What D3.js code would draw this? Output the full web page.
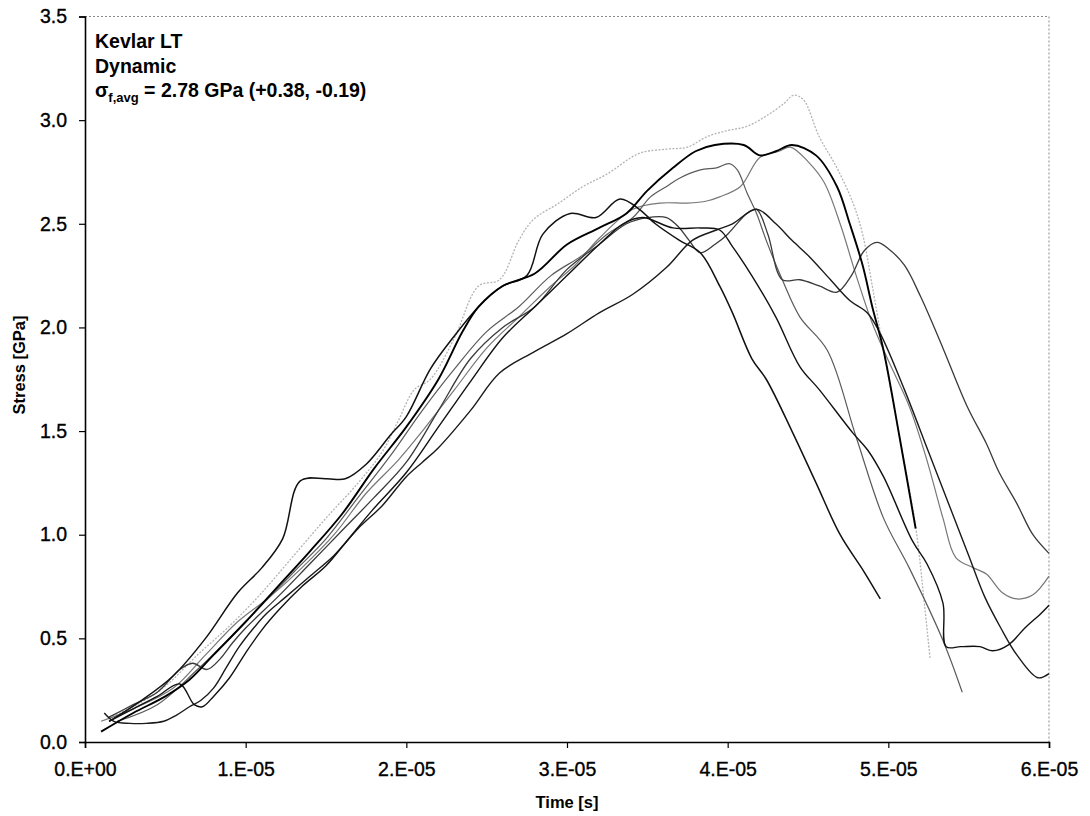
<!DOCTYPE html>
<html>
<head>
<meta charset="utf-8">
<script src="https://cdnjs.cloudflare.com/ajax/libs/d3/7.8.5/d3.min.js"></script>
<style>
  body { margin: 0; background: #fff; }
  svg { display: block; font-family: "Liberation Sans", Arial, sans-serif; }
</style>
</head>
<body>
<svg id="chart" width="1090" height="816"></svg>
<script>
// ---- data (time in units of 1e-5 s, stress in GPa) ----
const xTickValues = [0, 1, 2, 3, 4, 5, 6];
const xTickLabels = ["0.E+00", "1.E-05", "2.E-05", "3.E-05", "4.E-05", "5.E-05", "6.E-05"];
const yTickValues = [0, 0.5, 1.0, 1.5, 2.0, 2.5, 3.0, 3.5];

const seriesA = [[0.15,0.12],[0.3,0.17],[0.5,0.27],[0.7,0.42],[0.9,0.56],[1.1,0.72],[1.3,0.9],[1.5,1.08],[1.7,1.25],[1.85,1.4],[1.95,1.55],[2.05,1.7],[2.15,1.75],[2.3,1.95],[2.45,2.2],[2.58,2.23],[2.7,2.42],[2.79,2.52],[2.95,2.6],[3.1,2.68],[3.25,2.74],[3.45,2.84],[3.62,2.86],[3.75,2.87],[3.87,2.92],[4.0,2.95],[4.12,2.97],[4.24,3.02],[4.35,3.08],[4.41,3.12],[4.47,3.1],[4.57,2.92],[4.68,2.77],[4.78,2.6],[4.84,2.45],[4.9,2.2],[4.97,1.89],[5.07,1.47],[5.17,1.04],[5.22,0.7],[5.26,0.4]];
const seriesB = [[0.1,0.05],[0.3,0.14],[0.5,0.22],[0.65,0.3],[0.8,0.42],[1.0,0.58],[1.2,0.75],[1.4,0.92],[1.6,1.1],[1.8,1.32],[2.0,1.52],[2.2,1.75],[2.35,1.98],[2.45,2.1],[2.6,2.2],[2.8,2.26],[3.0,2.4],[3.2,2.48],[3.37,2.55],[3.5,2.66],[3.66,2.77],[3.8,2.85],[3.92,2.88],[4.1,2.88],[4.2,2.83],[4.3,2.85],[4.4,2.88],[4.55,2.83],[4.68,2.68],[4.76,2.5],[4.84,2.3],[4.9,2.1],[4.97,1.89],[5.07,1.47],[5.17,1.03]];
const seriesC = [[0.15,0.1],[0.35,0.2],[0.55,0.32],[0.75,0.5],[0.95,0.72],[1.1,0.84],[1.23,0.98],[1.34,1.26],[1.5,1.27],[1.62,1.27],[1.75,1.34],[1.9,1.48],[2.0,1.57],[2.15,1.8],[2.3,1.96],[2.45,2.1],[2.6,2.2],[2.75,2.25],[2.85,2.45],[3.02,2.55],[3.18,2.53],[3.33,2.62],[3.45,2.57],[3.55,2.5],[3.7,2.42],[3.83,2.36],[3.95,2.2],[4.03,2.07],[4.15,1.85],[4.24,1.75],[4.4,1.5],[4.55,1.25],[4.7,1.0],[4.85,0.82],[4.95,0.69]];
const seriesD = [[0.2,0.1],[0.45,0.18],[0.7,0.35],[0.9,0.5],[1.1,0.66],[1.3,0.82],[1.5,0.98],[1.7,1.18],[1.9,1.38],[2.1,1.6],[2.3,1.8],[2.5,1.98],[2.7,2.1],[2.9,2.25],[3.1,2.35],[3.25,2.45],[3.41,2.53],[3.52,2.63],[3.62,2.68],[3.7,2.72],[3.83,2.76],[3.93,2.77],[4.01,2.79],[4.06,2.76],[4.12,2.65],[4.18,2.55],[4.24,2.42],[4.34,2.23],[4.45,2.05],[4.62,1.89],[4.8,1.47],[4.97,1.08],[5.13,0.84],[5.34,0.49],[5.46,0.24]];
const seriesE = [[0.12,0.14],[0.18,0.1],[0.28,0.09],[0.38,0.09],[0.49,0.1],[0.57,0.13],[0.65,0.17],[0.72,0.2],[0.8,0.26],[0.88,0.36],[0.96,0.46],[1.05,0.55],[1.13,0.62],[1.25,0.7],[1.4,0.8],[1.55,0.9],[1.7,1.03],[1.85,1.14],[2.0,1.28],[2.1,1.35],[2.2,1.42],[2.4,1.6],[2.58,1.78],[2.79,1.88],[3.0,1.97],[3.2,2.07],[3.41,2.16],[3.62,2.29],[3.78,2.42],[3.93,2.47],[4.03,2.5],[4.18,2.57],[4.3,2.5],[4.4,2.42],[4.51,2.34],[4.64,2.23],[4.76,2.13],[4.87,2.07],[4.95,1.97],[5.1,1.7],[5.25,1.4],[5.4,1.1],[5.5,0.9],[5.6,0.7],[5.7,0.55],[5.8,0.42],[5.93,0.31],[6.0,0.33]];
const seriesF = [[0.15,0.12],[0.3,0.18],[0.45,0.24],[0.59,0.35],[0.67,0.38],[0.76,0.35],[0.84,0.4],[0.92,0.48],[1.0,0.55],[1.2,0.7],[1.4,0.86],[1.6,1.02],[1.8,1.18],[2.0,1.35],[2.2,1.6],[2.4,1.85],[2.6,2.0],[2.8,2.1],[3.0,2.28],[3.2,2.4],[3.37,2.5],[3.5,2.53],[3.62,2.53],[3.7,2.48],[3.76,2.42],[3.83,2.36],[3.92,2.4],[4.0,2.45],[4.12,2.55],[4.18,2.57],[4.25,2.45],[4.34,2.23],[4.45,2.23],[4.57,2.2],[4.68,2.17],[4.77,2.25],[4.85,2.37],[4.93,2.41],[5.0,2.38],[5.1,2.3],[5.2,2.15],[5.34,1.9],[5.49,1.62],[5.61,1.44],[5.69,1.3],[5.8,1.15],[5.9,1.0],[6.0,0.91]];
const seriesG = [[0.1,0.1],[0.3,0.16],[0.55,0.26],[0.75,0.42],[0.95,0.58],[1.15,0.7],[1.35,0.84],[1.55,1.0],[1.75,1.2],[1.95,1.36],[2.1,1.5],[2.3,1.7],[2.5,1.9],[2.7,2.05],[2.9,2.2],[3.05,2.3],[3.2,2.43],[3.41,2.57],[3.58,2.6],[3.75,2.6],[3.87,2.61],[3.95,2.63],[4.08,2.68],[4.2,2.82],[4.32,2.85],[4.39,2.87],[4.5,2.8],[4.6,2.7],[4.7,2.5],[4.8,2.25],[4.9,2.02],[5.0,1.84],[5.13,1.62],[5.24,1.36],[5.34,1.08],[5.42,0.89],[5.53,0.84],[5.61,0.81],[5.71,0.72],[5.8,0.69],[5.9,0.71],[6.0,0.8]];
const seriesH = [[0.15,0.1],[0.3,0.16],[0.45,0.22],[0.59,0.28],[0.68,0.18],[0.73,0.17],[0.8,0.22],[0.9,0.31],[1.0,0.43],[1.1,0.54],[1.21,0.64],[1.35,0.75],[1.5,0.85],[1.63,0.97],[1.79,1.12],[2.0,1.3],[2.2,1.52],[2.4,1.74],[2.6,1.95],[2.8,2.1],[3.0,2.25],[3.2,2.4],[3.35,2.5],[3.47,2.53],[3.66,2.48],[3.83,2.48],[3.95,2.47],[4.03,2.39],[4.15,2.25],[4.3,2.05],[4.45,1.81],[4.57,1.7],[4.78,1.49],[4.87,1.41],[4.97,1.28],[5.15,0.97],[5.24,0.86],[5.34,0.67],[5.36,0.46],[5.45,0.46],[5.57,0.46],[5.65,0.44],[5.75,0.47],[5.85,0.55],[5.95,0.62],[6.0,0.66]];

const seriesList = [
  { name: "A", data: seriesA, color: "#b4b4b4", width: 1.3, dash: "2,1.5" },
  { name: "G", data: seriesG, color: "#777777", width: 1.2, dash: null },
  { name: "D", data: seriesD, color: "#5a5a5a", width: 1.2, dash: null },
  { name: "F", data: seriesF, color: "#3a3a3a", width: 1.3, dash: null },
  { name: "E", data: seriesE, color: "#1a1a1a", width: 1.4, dash: null },
  { name: "H", data: seriesH, color: "#111111", width: 1.4, dash: null },
  { name: "C", data: seriesC, color: "#111111", width: 1.5, dash: null },
  { name: "B", data: seriesB, color: "#000000", width: 1.9, dash: null }
];

// ---- layout ----
const plot = { left: 85, right: 1049, top: 16.5, bottom: 742 };
const svg = d3.select("#chart");
const x = d3.scaleLinear().domain([0, 6]).range([plot.left, plot.right]);
const y = d3.scaleLinear().domain([0, 3.5]).range([plot.bottom, plot.top]);

// top & right dotted borders
svg.append("line").attr("x1", plot.left).attr("x2", plot.right).attr("y1", plot.top).attr("y2", plot.top)
  .attr("stroke", "#8a8a8a").attr("stroke-width", 1).attr("stroke-dasharray", "2,2");
svg.append("line").attr("x1", plot.right).attr("x2", plot.right).attr("y1", plot.top).attr("y2", plot.bottom)
  .attr("stroke", "#8a8a8a").attr("stroke-width", 1).attr("stroke-dasharray", "2,2");

// series
const line = d3.line().x(d => x(d[0])).y(d => y(d[1])).curve(d3.curveCatmullRom.alpha(0.5));
const g = svg.append("g");
seriesList.forEach(s => {
  g.append("path").datum(s.data)
    .attr("d", line)
    .attr("fill", "none")
    .attr("stroke", s.color)
    .attr("stroke-width", s.width)
    .attr("stroke-linejoin", "round")
    .attr("stroke-dasharray", s.dash);
});

// axes
const xAxis = d3.axisBottom(x).tickValues(xTickValues)
  .tickFormat((d, i) => xTickLabels[i]).tickSize(6).tickPadding(14);
const yAxis = d3.axisLeft(y).tickValues(yTickValues)
  .tickFormat(d3.format(".1f")).tickSize(6).tickPadding(12);

const gx = svg.append("g").attr("transform", `translate(0,${plot.bottom})`).call(xAxis);
const gy = svg.append("g").attr("transform", `translate(${plot.left},0)`).call(yAxis);
[gx, gy].forEach(a => {
  a.select(".domain").attr("stroke", "#000").attr("stroke-width", 1.6);
  a.selectAll(".tick line").attr("stroke", "#000").attr("stroke-width", 1.2);
  a.selectAll(".tick text").attr("fill", "#000")
    .attr("stroke", "#000").attr("stroke-width", 0.35)
    .style("font-family", "'Liberation Sans', Arial, sans-serif")
    .style("font-size", "19.5px");
});

// axis titles
svg.append("text").attr("x", (plot.left + plot.right) / 2).attr("y", 808)
  .attr("text-anchor", "middle").attr("font-weight", "bold").attr("font-size", 16.5)
  .text("Time [s]");
svg.append("text").attr("transform", "translate(25,365) rotate(-90)")
  .attr("text-anchor", "middle").attr("font-weight", "bold").attr("font-size", 16.5)
  .text("Stress [GPa]");

// annotation
const ann = svg.append("g").attr("font-weight", "bold").attr("font-size", 19.5).attr("fill", "#000");
ann.append("text").attr("x", 95).attr("y", 48).text("Kevlar LT");
ann.append("text").attr("x", 95).attr("y", 73).text("Dynamic");
const t3 = ann.append("text").attr("x", 95).attr("y", 97);
t3.append("tspan").text("σ");
t3.append("tspan").attr("font-size", 13).attr("dy", 5).text("f,avg");
t3.append("tspan").attr("dy", -5).text(" = 2.78 GPa (+0.38, -0.19)");
</script>
</body>
</html>
